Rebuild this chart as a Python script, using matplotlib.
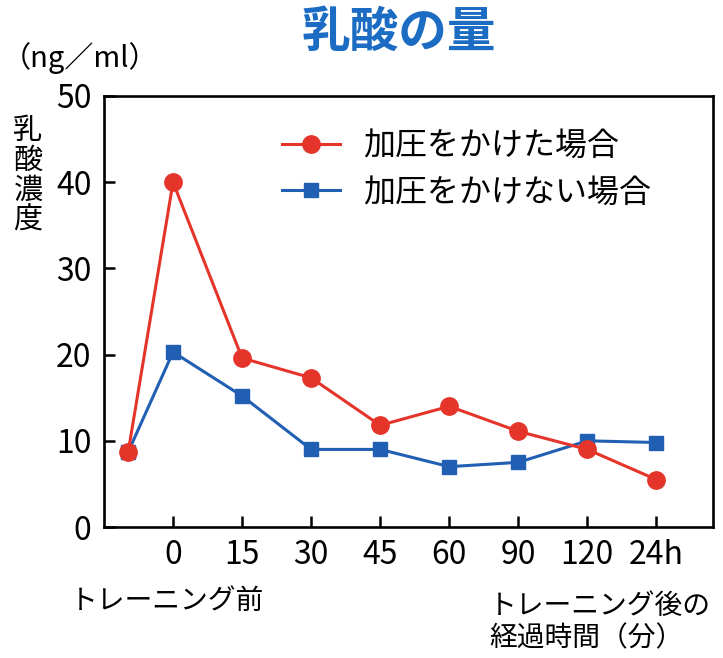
import numpy as np
import matplotlib.pyplot as plt

plt.rcParams['font.family'] = ['Noto Sans CJK JP', 'DejaVu Sans']

# データ（トレーニング前 + 経過時間）
ticklabels = ["0", "15", "30", "45", "60", "90", "120", "24h"]
x_pre = -0.65
red_vals = [8.7, 40.0, 19.6, 17.3, 11.8, 14.0, 11.1, 9.0, 5.5]
blue_vals = [8.7, 20.3, 15.2, 9.0, 9.0, 7.0, 7.5, 10.0, 9.8]
labels = ["加圧をかけた場合", "加圧をかけない場合"]

red = "#e5352b"
blue = "#215fb3"

x = np.concatenate([[x_pre], np.arange(len(ticklabels))])

fig = plt.figure(figsize=(7.23, 6.58), dpi=100)
ax = fig.add_axes([104/723, 1-527/658, (713-104)/723, (527-96)/658])

ax.plot(x, blue_vals, "-s", color=blue, lw=2.2, ms=10.5, label=labels[1], zorder=3)
ax.plot(x, red_vals, "-o", color=red, lw=2.2, ms=12.5, label=labels[0], zorder=4)

ax.set_xlim(-1.0, 7.82)
ax.set_ylim(0, 50)
ax.set_xticks(np.arange(len(ticklabels)))
ax.set_xticklabels(ticklabels)
ax.set_yticks(np.arange(0, 51, 10))
ax.tick_params(direction="in", length=8, width=1.8, labelsize=23, pad=9)
for s in ax.spines.values():
    s.set_linewidth(1.9)

h, l = ax.get_legend_handles_labels()
ax.legend(h[::-1], l[::-1], loc="upper left", bbox_to_anchor=(282/723, 1-130/658),
          bbox_transform=fig.transFigure, frameon=False, fontsize=23,
          handlelength=1.8, handletextpad=0.75, labelspacing=0.45, borderpad=0, borderaxespad=0)

fig.text(399/723, 1-32/658, "乳酸の量", color="#1c6cc4", fontsize=35, fontweight="bold",
         ha="center", va="center")
fig.text(2/723, 1-58/658, "（ng／ml）", fontsize=21, ha="left", va="center")
fig.text(28/723, 1-176/658, "乳\n酸\n濃\n度", fontsize=21, ha="center", va="center", linespacing=1.0)
fig.text(70/723, 1-601/658, "トレーニング前", fontsize=20, ha="left", va="center")
fig.text(489/723, 1-622/658, "トレーニング後の\n経過時間（分）", fontsize=20, ha="left", va="center",
         linespacing=1.1)

plt.savefig("out.png", dpi=100)
